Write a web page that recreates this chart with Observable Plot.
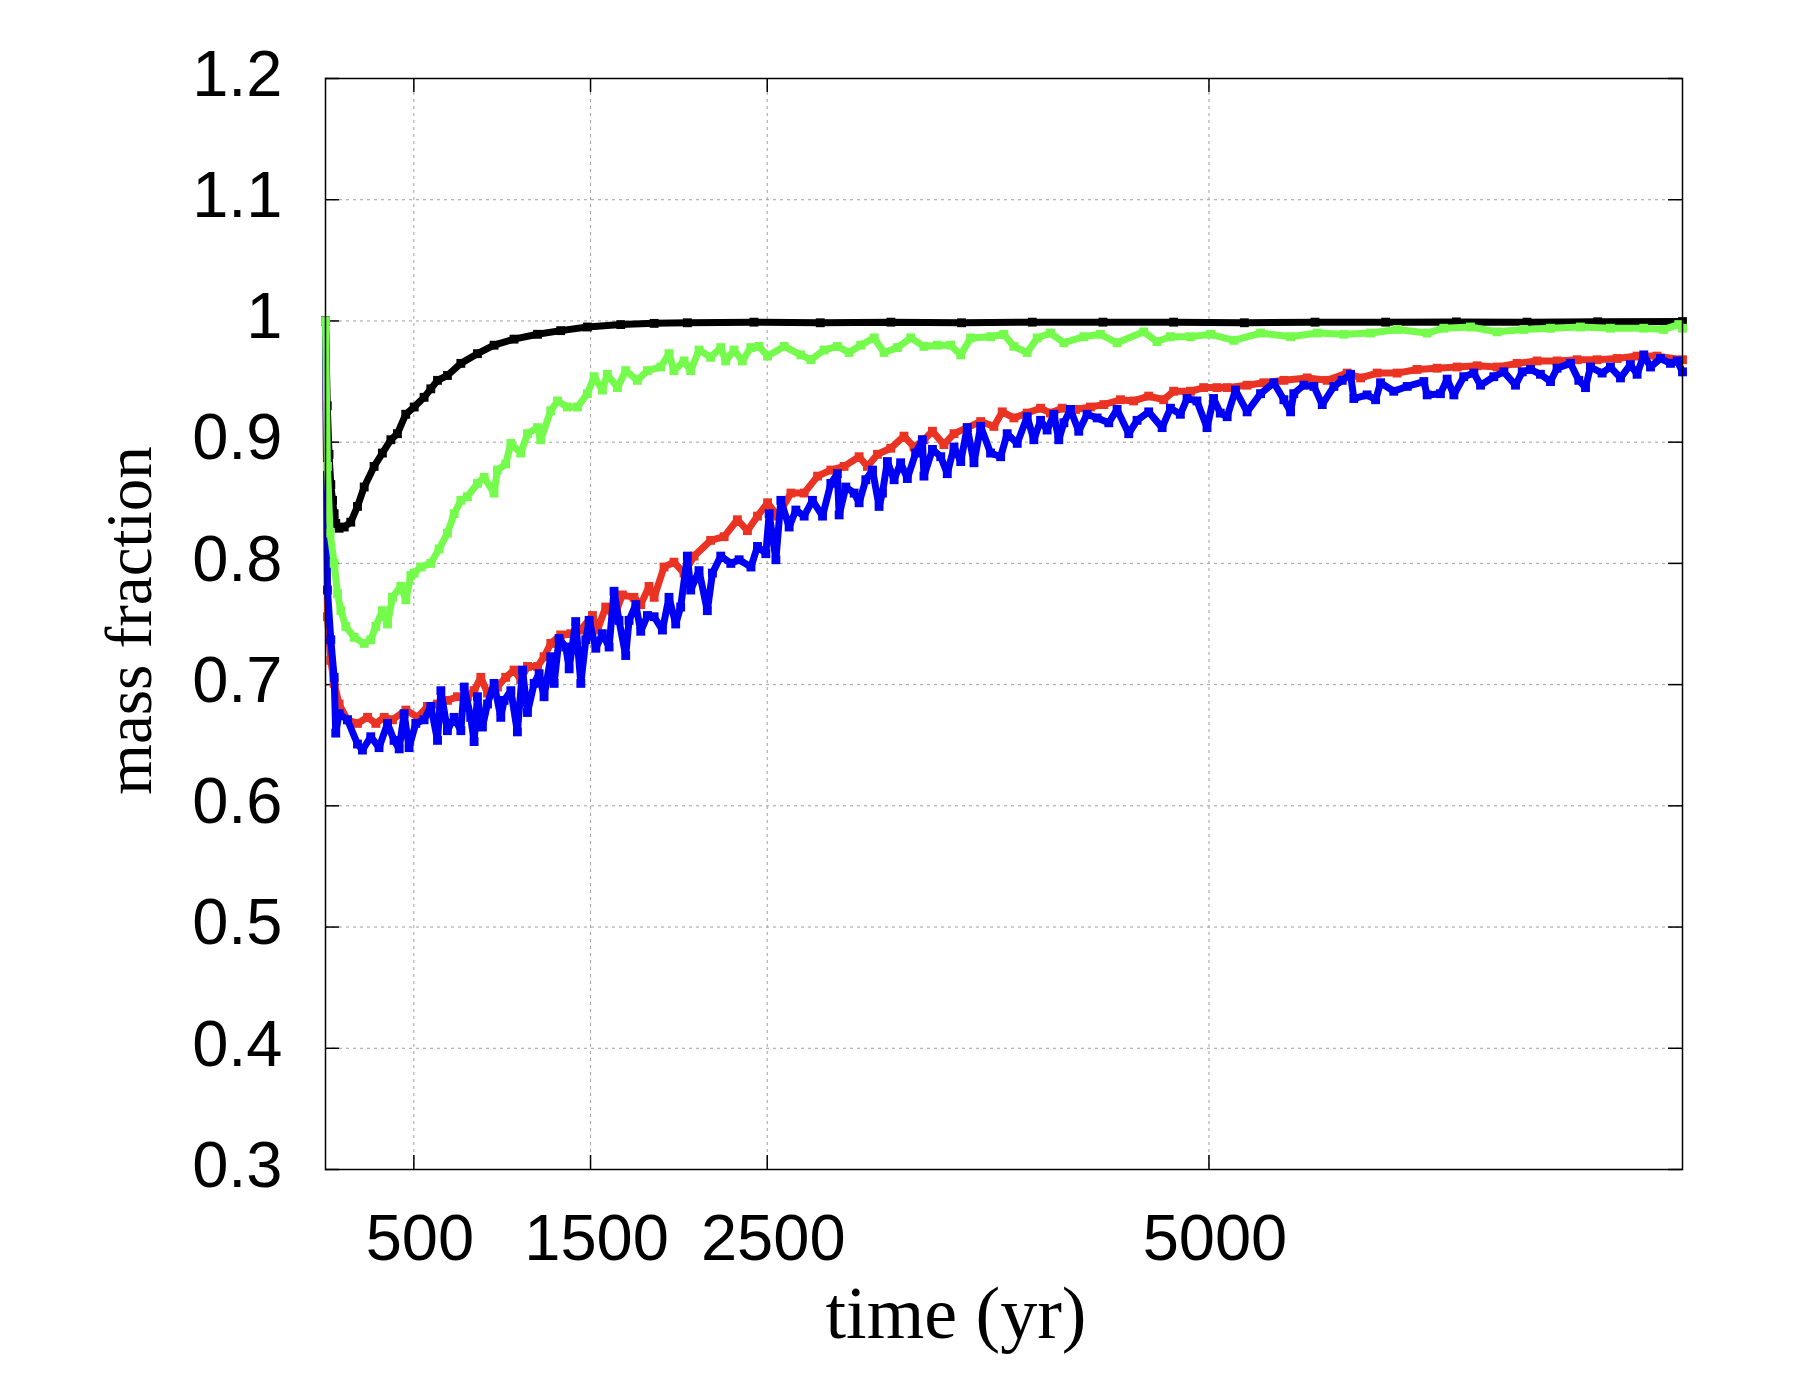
<!DOCTYPE html>
<html>
<head>
<meta charset="utf-8">
<script src="https://cdn.jsdelivr.net/npm/d3@7"></script>
<script src="https://cdn.jsdelivr.net/npm/@observablehq/plot@0.6"></script>
<style>
  html, body { margin: 0; padding: 0; background: #ffffff; }
  #chart { width: 1800px; height: 1400px; }
</style>
</head>
<body>
<div id="chart"></div>
<script>
// ---------- data ----------
const xTicks = [500, 1500, 2500, 5000];
const yTicks = [0.3, 0.4, 0.5, 0.6, 0.7, 0.8, 0.9, 1.0, 1.1, 1.2];
const yGridValues = [0.4, 0.5, 0.6, 0.7, 0.8, 0.9, 1.0, 1.1];

const blackT = [0, 10, 20, 30, 40, 49, 58, 77, 106, 143, 181, 219, 275, 322, 370, 407, 454, 502, 558, 596, 634, 690, 766, 860, 954, 1067, 1200, 1331, 1482, 1671, 1860, 2048, 2425, 2800, 3200, 3600, 4000, 4400, 4800, 5200, 5600, 6000, 6400, 6800, 7200, 7680];
const blackV = [1.0, 0.93, 0.89, 0.865, 0.852, 0.841, 0.833, 0.829, 0.830, 0.834, 0.847, 0.863, 0.880, 0.891, 0.902, 0.907, 0.923, 0.929, 0.937, 0.944, 0.951, 0.955, 0.965, 0.973, 0.980, 0.985, 0.989, 0.992, 0.995, 0.997, 0.998, 0.9985, 0.999, 0.9985, 0.999, 0.9985, 0.999, 0.999, 0.999, 0.9985, 0.999, 0.999, 0.9992, 0.999, 0.9993, 0.9995];

const greenT = [0, 11, 26, 49, 68, 87, 115, 162, 219, 256, 285, 322, 351, 379, 426, 455, 483, 502, 539, 596, 643, 690, 728, 766, 803, 860, 898, 954, 973, 1020, 1049, 1105, 1143, 1200, 1218, 1275, 1313, 1369, 1426, 1482, 1520, 1567, 1595, 1652, 1699, 1765, 1822, 1897, 1944, 1972, 2029, 2067, 2114, 2180, 2237, 2265, 2312, 2359, 2407, 2454, 2502, 2596, 2690, 2747, 2822, 2897, 2963, 3029, 3105, 3161, 3237, 3312, 3387, 3463, 3538, 3595, 3651, 3764, 3839, 3896, 3971, 4028, 4103, 4179, 4292, 4386, 4480, 4631, 4706, 4782, 4895, 5009, 5141, 5292, 5462, 5613, 5763, 5914, 6065, 6235, 6329, 6480, 6631, 6782, 6933, 7102, 7272, 7461, 7574, 7659, 7680];
const greenV = [1.0, 0.88, 0.825, 0.800, 0.775, 0.761, 0.748, 0.739, 0.734, 0.737, 0.748, 0.761, 0.750, 0.772, 0.781, 0.770, 0.790, 0.792, 0.797, 0.800, 0.812, 0.825, 0.841, 0.852, 0.855, 0.866, 0.871, 0.858, 0.877, 0.882, 0.899, 0.891, 0.907, 0.912, 0.902, 0.926, 0.934, 0.929, 0.929, 0.940, 0.954, 0.943, 0.956, 0.945, 0.959, 0.951, 0.959, 0.962, 0.973, 0.959, 0.967, 0.959, 0.976, 0.970, 0.978, 0.967, 0.976, 0.967, 0.978, 0.979, 0.971, 0.979, 0.972, 0.968, 0.976, 0.979, 0.974, 0.980, 0.986, 0.974, 0.978, 0.986, 0.979, 0.980, 0.980, 0.972, 0.986, 0.987, 0.989, 0.979, 0.974, 0.986, 0.990, 0.982, 0.987, 0.989, 0.982, 0.991, 0.983, 0.987, 0.987, 0.989, 0.984, 0.990, 0.987, 0.990, 0.989, 0.990, 0.993, 0.990, 0.994, 0.995, 0.991, 0.993, 0.994, 0.995, 0.994, 0.994, 0.993, 0.997, 0.994];

const redT = [0, 11, 30, 49, 77, 124, 181, 238, 285, 332, 379, 455, 521, 577, 634, 690, 747, 803, 841, 879, 917, 973, 1020, 1067, 1105, 1143, 1200, 1237, 1275, 1331, 1388, 1444, 1511, 1539, 1586, 1633, 1680, 1746, 1784, 1831, 1860, 1916, 1972, 2029, 2086, 2180, 2256, 2331, 2388, 2445, 2502, 2559, 2634, 2709, 2785, 2860, 2935, 3020, 3067, 3124, 3199, 3274, 3331, 3387, 3435, 3500, 3557, 3632, 3708, 3783, 3830, 3896, 3971, 4047, 4103, 4169, 4245, 4329, 4405, 4499, 4574, 4659, 4744, 4800, 4895, 4970, 5045, 5103, 5216, 5311, 5424, 5556, 5669, 5782, 5858, 5952, 6065, 6178, 6291, 6405, 6518, 6631, 6744, 6857, 6970, 7084, 7197, 7310, 7423, 7536, 7680];
const redV = [1.0, 0.756, 0.720, 0.701, 0.684, 0.671, 0.668, 0.673, 0.668, 0.673, 0.671, 0.679, 0.673, 0.682, 0.684, 0.687, 0.690, 0.690, 0.695, 0.706, 0.693, 0.698, 0.706, 0.712, 0.704, 0.715, 0.715, 0.723, 0.734, 0.741, 0.742, 0.745, 0.757, 0.745, 0.764, 0.756, 0.774, 0.772, 0.766, 0.781, 0.772, 0.797, 0.801, 0.792, 0.806, 0.819, 0.822, 0.836, 0.827, 0.839, 0.850, 0.839, 0.858, 0.858, 0.872, 0.877, 0.880, 0.888, 0.880, 0.890, 0.895, 0.905, 0.896, 0.902, 0.909, 0.898, 0.907, 0.912, 0.917, 0.913, 0.925, 0.920, 0.924, 0.928, 0.924, 0.928, 0.927, 0.929, 0.931, 0.935, 0.934, 0.938, 0.935, 0.942, 0.942, 0.945, 0.945, 0.945, 0.947, 0.949, 0.951, 0.953, 0.951, 0.957, 0.953, 0.957, 0.957, 0.960, 0.961, 0.962, 0.963, 0.962, 0.965, 0.967, 0.967, 0.968, 0.968, 0.969, 0.971, 0.971, 0.968];

const blueT = [0, 11, 30, 49, 58, 77, 124, 181, 209, 256, 303, 351, 388, 417, 445, 473, 511, 558, 596, 634, 653, 690, 728, 766, 785, 822, 841, 860, 888, 917, 954, 992, 1011, 1049, 1086, 1115, 1143, 1181, 1209, 1237, 1275, 1294, 1322, 1360, 1379, 1416, 1445, 1473, 1492, 1530, 1567, 1605, 1633, 1661, 1699, 1718, 1756, 1784, 1822, 1860, 1907, 1944, 1982, 2010, 2048, 2067, 2114, 2161, 2190, 2237, 2294, 2341, 2408, 2445, 2492, 2511, 2549, 2577, 2624, 2662, 2709, 2756, 2813, 2860, 2897, 2907, 2945, 2992, 3020, 3058, 3096, 3133, 3152, 3180, 3218, 3255, 3293, 3340, 3378, 3387, 3435, 3482, 3519, 3557, 3595, 3632, 3670, 3708, 3764, 3821, 3858, 3915, 3971, 4009, 4047, 4084, 4122, 4150, 4179, 4216, 4263, 4310, 4367, 4433, 4480, 4546, 4593, 4659, 4735, 4782, 4838, 4876, 4932, 4989, 5026, 5064, 5103, 5150, 5216, 5292, 5367, 5424, 5462, 5480, 5537, 5594, 5641, 5707, 5754, 5801, 5820, 5895, 5943, 5971, 6046, 6122, 6216, 6235, 6310, 6348, 6386, 6442, 6499, 6537, 6612, 6669, 6735, 6773, 6820, 6876, 6933, 6970, 7046, 7093, 7131, 7159, 7225, 7272, 7329, 7385, 7423, 7461, 7499, 7555, 7612, 7650, 7680];
const blueV = [1.0, 0.778, 0.737, 0.706, 0.660, 0.676, 0.671, 0.651, 0.646, 0.657, 0.648, 0.668, 0.654, 0.647, 0.676, 0.648, 0.668, 0.671, 0.682, 0.654, 0.695, 0.662, 0.673, 0.662, 0.698, 0.673, 0.653, 0.690, 0.665, 0.684, 0.701, 0.673, 0.687, 0.695, 0.661, 0.712, 0.677, 0.701, 0.709, 0.690, 0.723, 0.701, 0.738, 0.731, 0.713, 0.752, 0.701, 0.737, 0.753, 0.730, 0.742, 0.731, 0.777, 0.753, 0.724, 0.753, 0.766, 0.744, 0.757, 0.756, 0.745, 0.772, 0.750, 0.764, 0.806, 0.778, 0.794, 0.761, 0.792, 0.806, 0.800, 0.803, 0.797, 0.814, 0.808, 0.841, 0.803, 0.852, 0.830, 0.844, 0.839, 0.852, 0.839, 0.866, 0.874, 0.840, 0.863, 0.858, 0.850, 0.869, 0.877, 0.847, 0.858, 0.884, 0.869, 0.883, 0.870, 0.891, 0.902, 0.872, 0.894, 0.888, 0.874, 0.896, 0.884, 0.912, 0.883, 0.913, 0.891, 0.888, 0.907, 0.899, 0.921, 0.902, 0.918, 0.910, 0.923, 0.902, 0.916, 0.927, 0.909, 0.923, 0.920, 0.916, 0.927, 0.907, 0.918, 0.925, 0.912, 0.928, 0.923, 0.936, 0.934, 0.912, 0.936, 0.924, 0.921, 0.943, 0.925, 0.940, 0.949, 0.935, 0.925, 0.940, 0.947, 0.946, 0.931, 0.946, 0.951, 0.956, 0.936, 0.939, 0.935, 0.949, 0.942, 0.946, 0.950, 0.939, 0.940, 0.952, 0.939, 0.954, 0.957, 0.947, 0.954, 0.958, 0.947, 0.958, 0.960, 0.956, 0.950, 0.961, 0.965, 0.951, 0.945, 0.962, 0.957, 0.962, 0.953, 0.964, 0.956, 0.972, 0.962, 0.969, 0.965, 0.967, 0.958];

const seriesNames = ["black", "red", "blue", "green"];
const seriesColors = ["#000000", "#ea3323", "#0000f5", "#75fb4c"];

// ---------- build tables ----------
const toRows = (T, V) => T.map((t, i) => ({t, v: V[i]}));
const seriesRows = {
  black: toRows(blackT, blackV),
  red: toRows(redT, redV),
  blue: toRows(blueT, blueV),
  green: toRows(greenT, greenV)
};

// ---------- layout ----------
const W = 1800, H = 1400;
const ML = 325, MR = 118, MT = 78, MB = 231;
const frameW = W - ML - MR;
const frameH = H - MT - MB;
const tickLen = 14;
const serif = "'Liberation Serif', 'Times New Roman', 'DejaVu Serif', serif";

const seriesMarks = seriesNames.flatMap((name, i) => [
  Plot.line(seriesRows[name], {x: "t", y: "v", stroke: seriesColors[i], strokeWidth: 7, strokeLinejoin: "miter", strokeLinecap: "square"}),
  Plot.dot(seriesRows[name], {x: "t", y: "v", symbol: "square", r: 5, fill: seriesColors[i], stroke: "none"})
]);

const chart = Plot.plot({
  width: W,
  height: H,
  marginLeft: ML,
  marginRight: MR,
  marginTop: MT,
  marginBottom: MB,
  style: {background: "#ffffff", fontFamily: "'Liberation Sans', Arial, Helvetica, sans-serif", color: "#000000"},
  x: {domain: [0, 7680]},
  y: {domain: [0.3, 1.2]},
  marks: [
    Plot.gridX(xTicks, {stroke: "#a0a0a0", strokeOpacity: 1, strokeWidth: 1, strokeDasharray: "3,4"}),
    Plot.gridY(yGridValues, {stroke: "#a0a0a0", strokeOpacity: 1, strokeWidth: 1, strokeDasharray: "3,4"}),
    // inward ticks on all four sides
    Plot.tickX(xTicks, {x: d => d, insetTop: frameH - tickLen, stroke: "#000", strokeWidth: 1.5}),
    Plot.tickX(xTicks, {x: d => d, insetBottom: frameH - tickLen, stroke: "#000", strokeWidth: 1.5}),
    Plot.tickY(yTicks, {y: d => d, insetRight: frameW - tickLen, stroke: "#000", strokeWidth: 1.5}),
    Plot.tickY(yTicks, {y: d => d, insetLeft: frameW - tickLen, stroke: "#000", strokeWidth: 1.5}),
    ...seriesMarks,
    Plot.frame({stroke: "#000", strokeWidth: 1.5}),
    Plot.axisX(xTicks, {tickSize: 0, tickPadding: 44, fontSize: 65, dx: 6, label: null, tickFormat: d => String(d)}),
    Plot.axisY(yTicks, {tickSize: 0, tickPadding: 43, fontSize: 65, dy: -3.5, label: null, tickFormat: d => String(+d.toFixed(1))}),
    Plot.text(["time (yr)"], {frameAnchor: "bottom", lineAnchor: "bottom", textAnchor: "middle", dx: -48, dy: 168, fontSize: 74, fontFamily: serif, fill: "#000"}),
    Plot.text(["mass fraction"], {frameAnchor: "left", lineAnchor: "bottom", textAnchor: "middle", rotate: -90, dx: -175, dy: -3.5, fontSize: 65, fontFamily: serif, fill: "#000"})
  ]
});

document.getElementById("chart").appendChild(chart);
</script>
</body>
</html>
